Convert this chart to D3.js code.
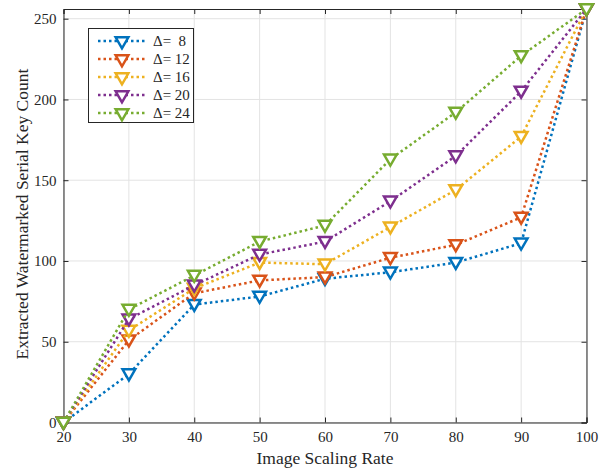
<!DOCTYPE html>
<html>
<head>
<meta charset="utf-8">
<script src="https://cdn.jsdelivr.net/npm/d3@7"></script>
<style>
body { margin: 0; background: #fff; }
text { font-family: "Liberation Serif", "Times New Roman", serif; fill: #262626; }
</style>
</head>
<body>
<svg id="chart" width="606" height="471"></svg>
<script>
'use strict'

const rates = [20, 30, 40, 50, 60, 70, 80, 90, 100]
const deltas = ['\u0394=  8', '\u0394= 12', '\u0394= 16', '\u0394= 20', '\u0394= 24']
const d8 = [0, 30, 73, 78, 89, 93, 99, 111, 256]
const d12 = [0, 51, 80, 88, 90, 102, 110, 127, 256]
const d16 = [0, 57, 83, 99, 98, 121, 144, 177, 256]
const d20 = [0, 64, 85, 104, 112, 137, 165, 205, 256]
const d24 = [0, 70, 91, 112, 122, 163, 192, 227, 256]
const xTicks = [20, 30, 40, 50, 60, 70, 80, 90, 100]
const yTicks = [0, 50, 100, 150, 200, 250]
const colors = ['#0072BD', '#D95319', '#EDB120', '#7E2F8E', '#77AC30']

const series = [d8, d12, d16, d20, d24]

const svg = d3.select('#chart')
const plotL = 63.5, plotR = 586.5, plotT = 9, plotB = 422.5

const x = d3.scaleLinear().domain([20, 100]).range([plotL, plotR])
const y = d3.scaleLinear().domain([0, 256]).range([plotB, plotT])

// grid
svg.append('g').selectAll('line').data(xTicks).join('line')
	.attr('x1', d => x(d)).attr('x2', d => x(d))
	.attr('y1', plotT).attr('y2', plotB)
	.attr('stroke', '#e3e3e3').attr('stroke-width', 1)
svg.append('g').selectAll('line').data(yTicks).join('line')
	.attr('y1', d => y(d)).attr('y2', d => y(d))
	.attr('x1', plotL).attr('x2', plotR)
	.attr('stroke', '#e3e3e3').attr('stroke-width', 1)

// axes (ticks inward)
svg.append('g').attr('transform', 'translate(0,' + plotB + ')')
	.call(d3.axisBottom(x).tickValues(xTicks).tickSize(-5).tickPadding(9))
svg.append('g').attr('transform', 'translate(0,' + plotT + ')')
	.call(d3.axisTop(x).tickValues(xTicks).tickSize(-5).tickFormat(''))
svg.append('g').attr('transform', 'translate(' + plotL + ',0)')
	.call(d3.axisLeft(y).tickValues(yTicks).tickSize(-5).tickPadding(7))
svg.append('g').attr('transform', 'translate(' + plotR + ',0)')
	.call(d3.axisRight(y).tickValues(yTicks).tickSize(-5).tickFormat(''))

svg.selectAll('.domain').attr('stroke', '#262626')
svg.selectAll('.tick line').attr('stroke', '#262626')
svg.selectAll('.tick text').style('font-family', '"Liberation Serif", serif')
	.style('font-size', '15px').attr('fill', '#262626')

const tri = d3.symbol().type(d3.symbolTriangle).size(70)

const line = d3.line().x((d, i) => x(rates[i])).y(d => y(d))

series.forEach((vals, k) => {
	svg.append('path')
		.attr('d', line(vals))
		.attr('fill', 'none')
		.attr('stroke', colors[k])
		.attr('stroke-width', 2.5)
		.attr('stroke-dasharray', '2.5,3')
	svg.append('g').selectAll('path').data(vals).join('path')
		.attr('d', tri)
		.attr('transform', (d, i) => 'translate(' + x(rates[i]) + ',' + (y(d) - 1) + ') rotate(180)')
		.attr('fill', '#fff')
		.attr('stroke', colors[k])
		.attr('stroke-width', 2.5)
})

// legend
const lg = svg.append('g')
lg.append('rect').attr('x', 88.5).attr('y', 28.5).attr('width', 105).attr('height', 94)
	.attr('fill', '#fff').attr('stroke', '#262626').attr('stroke-width', 1)
deltas.forEach((name, k) => {
	const ly = 41 + k * 18
	lg.append('line').attr('x1', 98).attr('x2', 146).attr('y1', ly).attr('y2', ly)
		.attr('stroke', colors[k]).attr('stroke-width', 2.5).attr('stroke-dasharray', '2.5,3')
	lg.append('path').attr('d', tri)
		.attr('transform', 'translate(122,' + ly + ') rotate(180)')
		.attr('fill', '#fff').attr('stroke', colors[k]).attr('stroke-width', 2.5)
	lg.append('text').attr('x', 153).attr('y', ly + 5)
		.attr('font-size', 15)
		.style('white-space', 'pre')
		.text(name)
})

// labels
svg.append('text').attr('x', (plotL + plotR) / 2).attr('y', 464)
	.attr('text-anchor', 'middle').attr('font-size', 17.5)
	.text('Image Scaling Rate')
svg.append('text').attr('transform', 'translate(28,' + 214 + ') rotate(-90)')
	.attr('text-anchor', 'middle').attr('font-size', 17.5)
	.text('Extracted Watermarked Serial Key Count')
</script>
</body>
</html>
